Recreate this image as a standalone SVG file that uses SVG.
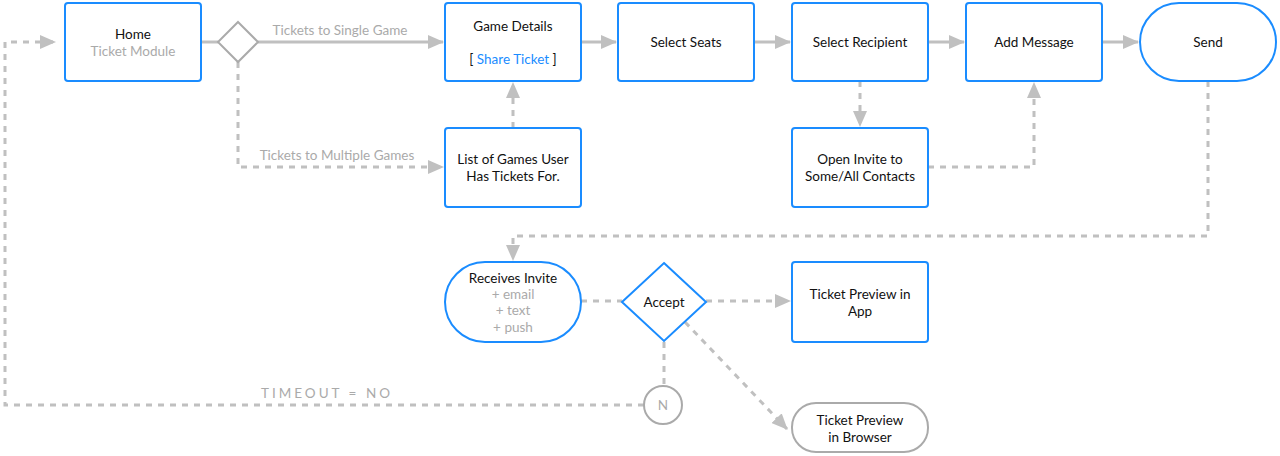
<svg xmlns="http://www.w3.org/2000/svg" width="1280" height="456" viewBox="0 0 1280 456">
<defs>
<marker id="ah" markerWidth="10" markerHeight="10" refX="9" refY="5" orient="auto" markerUnits="userSpaceOnUse" viewBox="0 0 10 10"><path d="M0,0 L10,5 L0,10 z" fill="#c0c0c0"/></marker>
<marker id="ahb" markerWidth="16" markerHeight="14" refX="15" refY="7" orient="auto" markerUnits="userSpaceOnUse" viewBox="0 0 16 14"><path d="M0,0 L16,7 L0,14 z" fill="#c0c0c0"/></marker>
</defs>
<style>
.n{fill:#fff;stroke:#1a8cff;stroke-width:2}
.g{fill:#fff;stroke:#aaa;stroke-width:2}
text{font-family:Lato,"Open Sans","Liberation Sans",sans-serif;font-size:13.5px;fill:#111;text-anchor:middle}
.l{fill:#aaa}
.c{fill:none;stroke:#c0c0c0;stroke-width:3}
.d{stroke-dasharray:6,6}
</style>
<rect width="1280" height="456" fill="#fff"/>
<g id="connectors">
<path class="c" d="M201,42 H218"/>
<path class="c" d="M258,42 H443" marker-end="url(#ahb)"/>
<text class="l" x="340" y="35">Tickets to Single Game</text>
<path class="c d" d="M238,62 V167 H443" marker-end="url(#ahb)"/>
<text class="l" x="337" y="160">Tickets to Multiple Games</text>
<path class="c d" d="M513,128 V83" marker-end="url(#ahb)"/>
<path class="c" d="M581,42 H616" marker-end="url(#ahb)"/>
<path class="c" d="M754,42 H790" marker-end="url(#ahb)"/>
<path class="c" d="M928,42 H964" marker-end="url(#ahb)"/>
<path class="c" d="M1102,42 H1138" marker-end="url(#ahb)"/>
<path class="c d" d="M860,81 V126" marker-end="url(#ahb)"/>
<path class="c d" d="M928,167 H1034 V83" marker-end="url(#ahb)"/>
<path class="c d" d="M1208,81 V236 H513 V260" marker-end="url(#ahb)"/>
<path class="c d" d="M581,301 H622"/>
<path class="c d" d="M706,301 H790" marker-end="url(#ahb)"/>
<path class="c d" d="M685,322 L787,429" marker-end="url(#ahb)"/>
<path class="c d" d="M664,342 V386"/>
<path class="c d" d="M644,405 H5 V42 H55" marker-end="url(#ahb)"/>
<text class="l" x="327" y="398" style="letter-spacing:3px">TIMEOUT = NO</text>
</g>
<g id="home"><rect class="n" x="65" y="3" width="136" height="78" rx="3"/><text x="133" y="39">Home</text><text class="l" x="133" y="56">Ticket Module</text></g>
<g id="split"><path class="g" d="M238,22 L258,42 L238,62 L218,42 z"/></g>
<g id="gamedetails"><rect class="n" x="445" y="3" width="136" height="78" rx="3"/><text x="513" y="31">Game Details</text><text x="513" y="64">[ <tspan fill="#1a8cff">Share Ticket</tspan> ]</text></g>
<g id="seats"><rect class="n" x="618" y="3" width="136" height="78" rx="3"/><text x="686" y="47">Select Seats</text></g>
<g id="recipient"><rect class="n" x="792" y="3" width="136" height="78" rx="3"/><text x="860" y="47">Select Recipient</text></g>
<g id="message"><rect class="n" x="966" y="3" width="136" height="78" rx="3"/><text x="1034" y="47">Add Message</text></g>
<g id="send"><rect class="n" x="1140" y="3" width="136" height="78" rx="39"/><text x="1208" y="47">Send</text></g>
<g id="list"><rect class="n" x="445" y="128" width="136" height="79" rx="3"/><text x="513" y="164">List of Games User</text><text x="513" y="181">Has Tickets For.</text></g>
<g id="openinvite"><rect class="n" x="792" y="128" width="136" height="79" rx="3"/><text x="860" y="164">Open Invite to</text><text x="860" y="181">Some/All Contacts</text></g>
<g id="receives"><rect class="n" x="445" y="262" width="136" height="80" rx="40"/><text x="513" y="283">Receives Invite</text><text class="l" x="513" y="299">+ email</text><text class="l" x="513" y="315">+ text</text><text class="l" x="513" y="332">+ push</text></g>
<g id="accept"><path class="n" d="M664,263 L706,302 L664,341 L622,302 z"/><text x="664" y="307">Accept</text></g>
<g id="app"><rect class="n" x="792" y="262" width="136" height="80" rx="3"/><text x="860" y="299">Ticket Preview in</text><text x="860" y="316">App</text></g>
<g id="browser"><rect class="g" x="792" y="403" width="136" height="49" rx="24"/><text x="860" y="425">Ticket Preview</text><text x="860" y="442">in Browser</text></g>
<g id="n"><circle class="g" cx="663" cy="405" r="19"/><text class="l" x="663" y="410">N</text></g>
</svg>
